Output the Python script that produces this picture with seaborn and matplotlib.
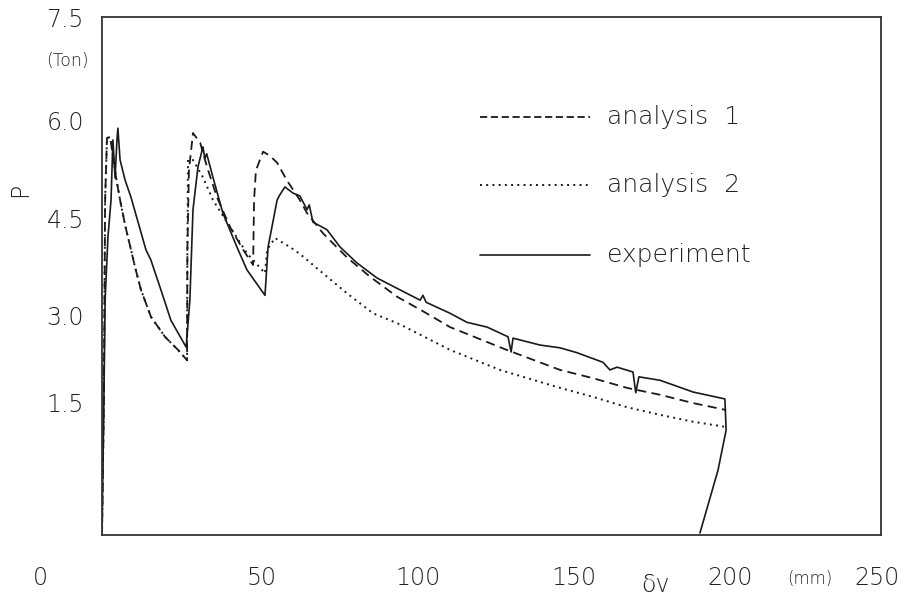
import numpy as np
import pandas as pd
import matplotlib
matplotlib.use("Agg")
import matplotlib.pyplot as plt
import seaborn as sns

# ---- data (delta_v in mm, P in ton) ----
exp_x = [0, 0.6, 1.0, 1.9, 2.9, 3.5, 4.2, 4.8, 5.1, 5.8, 7.4, 9.3, 14.1, 15.7, 18.9, 22.1, 27.0,
         28.2, 29.2, 30.8, 32.4, 33.0, 33.6, 35.6, 38.8, 43.3, 46.5, 52.3,
         53.3, 56.2, 57.0, 58.7, 61.3, 63.5, 65.8, 66.5, 67.7, 72.2, 76.4, 81.8, 88.3, 95.6, 102.1, 103.0,
         104.0, 111.7, 117.1, 123.6, 130.3, 131.3, 131.9, 140.6, 147.0, 152.4, 160.8, 163.0, 165.3,
         170.4, 171.3, 172.3, 179.1, 189.7, 199.9, 200.3, 197.7, 191.9]
exp_y = [0, 1.95, 3.40, 4.31, 4.85, 5.72, 5.17, 5.72, 5.89, 5.43, 5.14, 4.89, 4.13, 3.98, 3.55, 3.11, 2.72,
         3.40, 4.71, 5.33, 5.62, 5.45, 5.52, 5.18, 4.66, 4.17, 3.84, 3.47,
         4.17, 4.85, 4.92, 5.04, 4.95, 4.91, 4.71, 4.78, 4.53, 4.42, 4.17, 3.94, 3.72, 3.55, 3.40, 3.47,
         3.37, 3.21, 3.08, 3.01, 2.87, 2.65, 2.85, 2.75, 2.71, 2.64, 2.50, 2.39, 2.43,
         2.36, 2.06, 2.29, 2.24, 2.07, 1.97, 1.52, 0.94, 0.03]

an1_x = [0, 0.6, 1.0, 1.6, 2.6, 3.5, 4.5, 5.8, 7.4, 9.3, 10.6, 12.5, 15.7, 20.2, 24.4, 27.3,
         27.4, 27.9, 29.2, 31.5, 33.7, 36.9, 41.1, 45.3, 48.5,
         48.8, 49.4, 51.7, 53.9, 56.2, 59.4, 63.5, 65.8, 70.9, 78.6, 86.0, 94.7, 103.0, 111.7,
         129.3, 147.0, 157.6, 168.5, 179.1, 189.7, 200.3]
an1_y = [0, 1.95, 4.85, 5.75, 5.76, 5.50, 5.18, 4.85, 4.49, 4.13, 3.88, 3.55, 3.16, 2.87, 2.68, 2.53,
         4.13, 5.28, 5.82, 5.68, 5.33, 4.89, 4.46, 4.13, 3.91,
         4.85, 5.28, 5.55, 5.49, 5.39, 5.13, 4.85, 4.66, 4.37, 4.02, 3.74, 3.45, 3.24, 3.01,
         2.69, 2.39, 2.27, 2.13, 2.03, 1.91, 1.81]

an2_x = [0, 0.6, 1.0, 1.6, 2.6, 3.5, 4.5, 5.8, 7.4, 9.3, 10.6, 12.5, 15.7, 20.2, 24.4, 27.3,
         27.4, 27.6, 29.2, 32.4, 35.6, 41.1, 46.5, 52.3,
         53.0, 55.5, 60.3, 63.5, 70.9, 78.6, 87.0, 95.6, 111.7, 127.7, 147.0, 157.6, 168.5,
         179.1, 189.7, 200.9]
an2_y = [0, 1.95, 4.85, 5.75, 5.76, 5.50, 5.18, 4.85, 4.49, 4.13, 3.88, 3.55, 3.16, 2.87, 2.68, 2.53,
         4.13, 5.43, 5.43, 5.18, 4.85, 4.46, 4.08, 3.79,
         4.13, 4.30, 4.17, 4.07, 3.79, 3.50, 3.21, 3.05, 2.68, 2.39, 2.13, 2.00, 1.85,
         1.74, 1.64, 1.56]

series_labels = ["analysis  1", "analysis  2", "experiment"]
xtick_values = [0, 50, 100, 150, 200, 250]
xtick_labels = ["0", "50", "100", "150", "200", "250"]
ytick_values = [7.5, 6.0, 4.5, 3.0, 1.5]
ytick_labels = ["7.5", "6.0", "4.5", "3.0", "1.5"]

# ---- figure ----
sns.set_style("white")
plt.rcParams["font.family"] = ["DejaVu Sans"]
ink = "#1a1a1a"

fig = plt.figure(figsize=(9.14, 6.09), dpi=100)
ax = fig.add_axes([102 / 914, 1 - 535 / 609, 779 / 914, 518 / 609])

d1 = pd.DataFrame({"x": an1_x, "y": an1_y})
d2 = pd.DataFrame({"x": an2_x, "y": an2_y})
d3 = pd.DataFrame({"x": exp_x, "y": exp_y})
sns.lineplot(data=d1, x="x", y="y", sort=False, estimator=None, ax=ax,
             color=ink, lw=1.3, linestyle=(0, (5, 3)))
sns.lineplot(data=d2, x="x", y="y", sort=False, estimator=None, ax=ax,
             color=ink, lw=1.4, linestyle=(0, (1, 2.2)))
sns.lineplot(data=d3, x="x", y="y", sort=False, estimator=None, ax=ax,
             color=ink, lw=1.2, linestyle="-")

ax.set_xlim(0, 250)
ax.set_ylim(0, 7.5)
ax.set_xlabel("")
ax.set_ylabel("")
for s in ax.spines.values():
    s.set_color("#333333")
    s.set_linewidth(1.3)

ax.set_xticks([v for v in xtick_values if 0 < v < 250])
ax.set_yticks([v for v in ytick_values if 0 < v < 7.5])
ax.tick_params(axis="x", direction="in", length=6, width=1, colors="#333333",
               labelbottom=False)
ax.tick_params(axis="y", direction="in", length=4, width=1, colors="#333333",
               labelleft=False)

fs = 17
txt_kw = dict(color="#222222", fontweight="light", clip_on=False)

# x tick labels (offset positions as printed)
x_label_pos = [-19.9, 51.3, 101.4, 151.5, 201.5, 248.7]
for xp, lab in zip(x_label_pos, xtick_labels):
    ax.text(xp, -0.62, lab, ha="center", va="center", fontsize=fs, **txt_kw)

# y tick labels (offset positions as printed)
y_label_pos = [7.46, 5.96, 4.55, 3.14, 1.88]
for yp, lab in zip(y_label_pos, ytick_labels):
    ax.text(-5.8, yp, lab, ha="right", va="center", fontsize=fs, **txt_kw)

ax.text(-11.2, 6.86, "(Ton)", ha="center", va="center", fontsize=12.5, **txt_kw)
ax.text(-26.3, 4.99, "P", ha="center", va="center", fontsize=fs, rotation=90, **txt_kw)
ax.text(177.5, -0.72, "δv", ha="center", va="center", fontsize=fs, **txt_kw)
ax.text(227.2, -0.64, "(mm)", ha="center", va="center", fontsize=12, **txt_kw)

# legend drawn manually
leg_styles = [dict(lw=1.3, linestyle=(0, (4, 2))),
              dict(lw=1.4, linestyle=(0, (1, 2.2))),
              dict(lw=1.2, linestyle="-")]
leg_y = [6.05, 5.07, 4.05]
for yy, st, lab in zip(leg_y, leg_styles, series_labels):
    sns.lineplot(x=[121.3, 156.6], y=[yy, yy], ax=ax, color=ink, sort=False,
                 estimator=None, **st)
    ax.text(162.1, yy, lab, ha="left", va="center", fontsize=18, **txt_kw)

fig.savefig("out.png", dpi=100, facecolor="white")
